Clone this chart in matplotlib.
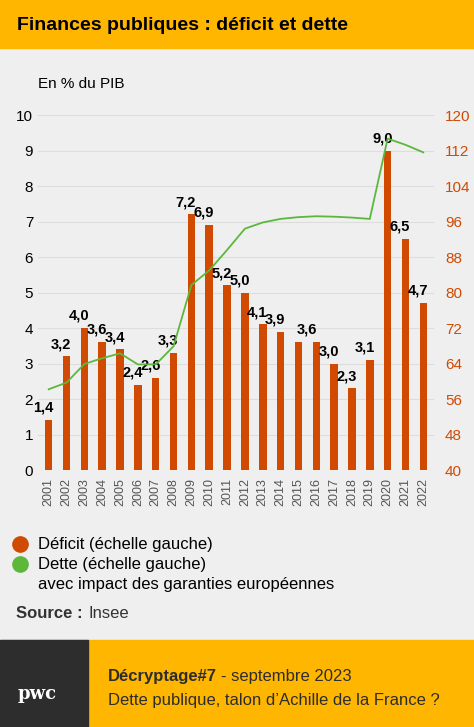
import matplotlib.pyplot as plt
from matplotlib.patches import Rectangle
from matplotlib.lines import Line2D

plt.rcParams['font.family'] = ['Liberation Sans', 'DejaVu Sans']

annees = [str(a) for a in range(2001, 2023)]
deficit = [1.4, 3.2, 4.0, 3.6, 3.4, 2.4, 2.6, 3.3, 7.2, 6.9, 5.2, 5.0, 4.1, 3.9, 3.6, 3.6, 3.0, 2.3, 3.1, 9.0, 6.5, 4.7]
dette = [58.2, 59.7, 63.9, 65.2, 66.3, 63.8, 63.8, 67.9, 81.7, 85.0, 89.6, 94.4, 95.8, 96.6, 97.0, 97.2, 97.1, 96.9, 96.6, 114.7, 113.3, 111.6]

orange = "#d04a02"
vert = "#5cb83a"
jaune = "#ffb600"
fond = "#efefef"

fig = plt.figure(figsize=(4.74, 7.27), dpi=100)
fig.patch.set_facecolor(fond)
H = 727.0

# bandeau titre
fig.patches.append(Rectangle((0, 1 - 48 / H), 1, 48 / H, transform=fig.transFigure, color=jaune, zorder=0))
fig.text(0.035, 1 - 25 / H, "Finances publiques : déficit et dette", fontsize=14, fontweight="bold", va="center")

ax = fig.add_axes([38 / 474, 1 - 470 / H, 396 / 474, 362 / H])
ax.set_facecolor(fond)
x = range(len(annees))
ax.bar(x, deficit, width=0.42, color=orange, zorder=2)
for i, v in enumerate(deficit):
    if i == 14:  # 2015 et 2016 partagent une seule étiquette 3,6
        continue
    dx = -0.5 if i == 15 else -0.3
    ax.text(i + dx, v + 0.15, f"{v:.1f}".replace(".", ","), ha="center", va="bottom",
            fontsize=10.5, fontweight="bold", zorder=4)
ax.set_xlim(-0.6, len(annees) - 0.4)
ax.set_ylim(0, 10.2)
ax.set_yticks(range(11))
ax.set_xticks(list(x))
ax.set_xticklabels(annees, rotation=90, fontsize=9, color="#555555")
ax.tick_params(length=0, labelsize=11)
ax.tick_params(axis="x", labelsize=9, pad=6)
ax.grid(axis="y", color="#dddddd", lw=0.8, zorder=0)
for s in ax.spines.values():
    s.set_visible(False)

ax2 = ax.twinx()
ax2.plot(x, dette, color=vert, lw=1.3, zorder=3)
ax2.set_ylim(40, 40 + 8 * 10.2)
ax2.set_yticks(range(40, 121, 8))
ax2.tick_params(length=0, labelsize=11, labelcolor=orange, pad=8)
for s in ax2.spines.values():
    s.set_visible(False)

fig.text(38 / 474, 1 - 84 / H, "En % du PIB", fontsize=11, va="center")

# légende
fig.add_artist(Line2D([20 / 474], [1 - 544 / H], marker="o", ms=11, color=orange, transform=fig.transFigure))
fig.add_artist(Line2D([20 / 474], [1 - 564 / H], marker="o", ms=11, color=vert, transform=fig.transFigure))
fig.text(38 / 474, 1 - 544 / H, "Déficit (échelle gauche)", fontsize=12, va="center")
fig.text(38 / 474, 1 - 564 / H, "Dette (échelle gauche)", fontsize=12, va="center")
fig.text(38 / 474, 1 - 584 / H, "avec impact des garanties européennes", fontsize=12, va="center")
fig.text(16 / 474, 1 - 613 / H, "Source :", fontsize=12, fontweight="bold", va="center", color="#333333")
fig.text(89 / 474, 1 - 613 / H, "Insee", fontsize=12, va="center", color="#333333")

# pied de page
fig.patches.append(Rectangle((0, 0), 1, 87 / H, transform=fig.transFigure, color=jaune, zorder=0))
fig.patches.append(Rectangle((0, 0), 88 / 474, 87 / H, transform=fig.transFigure, color="#2d2d2d", zorder=0))
fig.text(18 / 474, 1 - 694 / H, "pwc", fontsize=13, fontweight="bold", color="white", family="serif", va="center")
fig.text(108 / 474, 1 - 676 / H, "Décryptage#7", fontsize=12, fontweight="bold", color="#2d2d2d", va="center")
fig.text(221 / 474, 1 - 676 / H, "- septembre 2023", fontsize=12, color="#2d2d2d", va="center")
fig.text(108 / 474, 1 - 700 / H, "Dette publique, talon d’Achille de la France ?", fontsize=12, color="#2d2d2d", va="center")

fig.savefig("out.png", dpi=100, facecolor=fond)
